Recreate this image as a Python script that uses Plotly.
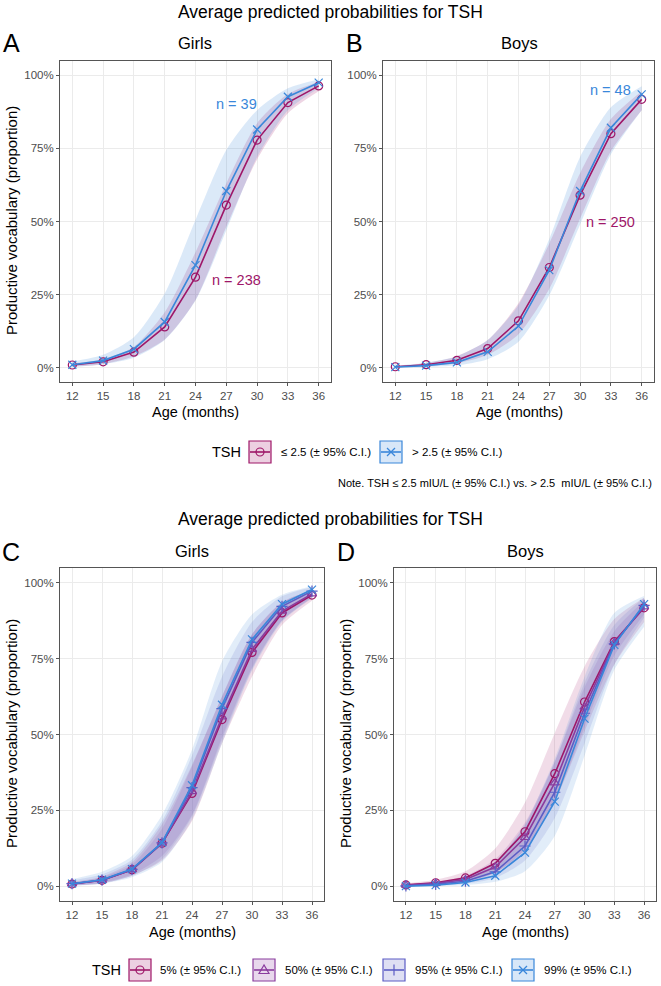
import plotly.graph_objects as go

W, H = 661, 986

# ---------------- data ----------------
ages = [12, 15, 18, 21, 24, 27, 30, 33, 36]
age_ticks = ["12", "15", "18", "21", "24", "27", "30", "33", "36"]
pct_vals = [0, 0.25, 0.5, 0.75, 1.0]
pct_text = ["0%", "25%", "50%", "75%", "100%"]

# Panel A (Girls): TSH <= 2.5 and > 2.5
girls_low = [0.010, 0.021, 0.054, 0.140, 0.310, 0.556, 0.778, 0.906, 0.963]
girls_low_lo = [0.005, 0.013, 0.040, 0.097, 0.232, 0.482, 0.712, 0.870, 0.945]
girls_low_hi = [0.016, 0.030, 0.072, 0.190, 0.395, 0.630, 0.835, 0.935, 0.976]
girls_high = [0.011, 0.025, 0.064, 0.157, 0.351, 0.604, 0.814, 0.926, 0.974]
girls_high_lo = [0.004, 0.013, 0.035, 0.095, 0.230, 0.470, 0.720, 0.880, 0.955]
girls_high_hi = [0.022, 0.045, 0.105, 0.254, 0.505, 0.744, 0.880, 0.955, 0.985]

# Panel B (Boys)
boys_low = [0.004, 0.011, 0.026, 0.066, 0.161, 0.343, 0.590, 0.800, 0.917]
boys_low_lo = [0.002, 0.006, 0.016, 0.045, 0.115, 0.270, 0.510, 0.740, 0.880]
boys_low_hi = [0.007, 0.017, 0.040, 0.095, 0.221, 0.425, 0.665, 0.850, 0.945]
boys_high = [0.003, 0.008, 0.019, 0.055, 0.143, 0.334, 0.604, 0.820, 0.934]
boys_high_lo = [0.001, 0.003, 0.009, 0.030, 0.089, 0.248, 0.490, 0.730, 0.880]
boys_high_hi = [0.008, 0.018, 0.040, 0.095, 0.215, 0.440, 0.720, 0.890, 0.962]

# Panel C (Girls) by TSH percentile
c5 = [0.008, 0.020, 0.055, 0.142, 0.306, 0.549, 0.770, 0.900, 0.959]
c5_lo = [0.003, 0.010, 0.035, 0.085, 0.215, 0.470, 0.690, 0.860, 0.940]
c5_hi = [0.015, 0.032, 0.080, 0.205, 0.400, 0.625, 0.830, 0.935, 0.975]
c50 = [0.008, 0.020, 0.055, 0.142, 0.312, 0.558, 0.780, 0.906, 0.963]
c50_lo = [0.004, 0.012, 0.040, 0.100, 0.235, 0.490, 0.720, 0.875, 0.948]
c50_hi = [0.013, 0.030, 0.072, 0.190, 0.395, 0.625, 0.830, 0.935, 0.975]
c95 = [0.009, 0.021, 0.056, 0.143, 0.325, 0.585, 0.803, 0.922, 0.972]
c95_lo = [0.003, 0.010, 0.035, 0.090, 0.230, 0.480, 0.715, 0.875, 0.952]
c95_hi = [0.020, 0.040, 0.088, 0.215, 0.430, 0.690, 0.870, 0.955, 0.985]
c99 = [0.009, 0.022, 0.057, 0.144, 0.333, 0.598, 0.813, 0.929, 0.977]
c99_lo = [0.003, 0.009, 0.030, 0.080, 0.220, 0.470, 0.710, 0.870, 0.950]
c99_hi = [0.024, 0.048, 0.100, 0.235, 0.450, 0.740, 0.895, 0.960, 0.988]

# Panel D (Boys) by TSH percentile
d5 = [0.005, 0.012, 0.028, 0.076, 0.180, 0.371, 0.607, 0.806, 0.917]
d5_lo = [0.002, 0.006, 0.016, 0.045, 0.120, 0.280, 0.510, 0.730, 0.870]
d5_hi = [0.010, 0.022, 0.050, 0.125, 0.276, 0.505, 0.724, 0.880, 0.950]
d50 = [0.004, 0.010, 0.023, 0.064, 0.161, 0.341, 0.590, 0.802, 0.920]
d50_lo = [0.002, 0.006, 0.015, 0.045, 0.120, 0.280, 0.525, 0.760, 0.895]
d50_hi = [0.006, 0.016, 0.035, 0.090, 0.210, 0.410, 0.655, 0.840, 0.940]
d95 = [0.002, 0.007, 0.017, 0.048, 0.133, 0.310, 0.570, 0.798, 0.925]
d95_lo = [0.001, 0.003, 0.009, 0.028, 0.085, 0.225, 0.470, 0.730, 0.885]
d95_hi = [0.005, 0.014, 0.032, 0.080, 0.200, 0.410, 0.670, 0.860, 0.950]
d99 = [0.001, 0.004, 0.013, 0.035, 0.111, 0.279, 0.552, 0.795, 0.929]
d99_lo = [0.000, 0.001, 0.004, 0.015, 0.050, 0.166, 0.430, 0.713, 0.855]
d99_hi = [0.004, 0.012, 0.032, 0.080, 0.205, 0.420, 0.690, 0.900, 0.956]

# ---------------- styles ----------------
MAG = (158, 22, 104)
PUR = (138, 60, 158)
IND = (92, 93, 197)
BLU = (58, 135, 218)
FONT = "Liberation Sans, Arial, Helvetica, sans-serif"


def rgb(c):
    return "rgb(%d,%d,%d)" % c


def rgba(c, a):
    return "rgba(%d,%d,%d,%.2f)" % (c + (a,))


def px(x):
    return x / W


def py(y):
    return 1 - y / H


fig = go.Figure()

panels = {
    1: dict(x=(60, 331), y=(61, 382)),
    2: dict(x=(383, 654), y=(61, 382)),
    3: dict(x=(60, 324), y=(568, 901)),
    4: dict(x=(394, 656), y=(568, 901)),
}


def add_group(i, mean, lo, hi, col, symbol, alpha=0.18):
    xa = "x" if i == 1 else "x%d" % i
    ya = "y" if i == 1 else "y%d" % i
    fig.add_trace(go.Scatter(x=ages, y=hi, xaxis=xa, yaxis=ya, mode="lines",
                             line=dict(width=0, color=rgba(col, 0), shape="spline", smoothing=0.7),
                             showlegend=False, hoverinfo="skip"))
    fig.add_trace(go.Scatter(x=ages, y=lo, xaxis=xa, yaxis=ya, mode="lines",
                             fill="tonexty", fillcolor=rgba(col, alpha),
                             line=dict(width=0, color=rgba(col, 0), shape="spline", smoothing=0.7),
                             showlegend=False, hoverinfo="skip"))


def add_line(i, mean, col, symbol):
    xa = "x" if i == 1 else "x%d" % i
    ya = "y" if i == 1 else "y%d" % i
    fig.add_trace(go.Scatter(x=ages, y=mean, xaxis=xa, yaxis=ya, mode="lines+markers",
                             line=dict(width=1.6, color=rgb(col)),
                             marker=dict(symbol=symbol, size=8, color=rgb(col),
                                         line=dict(width=1.2, color=rgb(col))),
                             showlegend=False))


# Panel A
add_group(1, girls_low, girls_low_lo, girls_low_hi, MAG, "circle-open")
add_group(1, girls_high, girls_high_lo, girls_high_hi, BLU, "x-thin-open")
add_line(1, girls_low, MAG, "circle-open")
add_line(1, girls_high, BLU, "x-thin-open")
# Panel B
add_group(2, boys_low, boys_low_lo, boys_low_hi, MAG, "circle-open")
add_group(2, boys_high, boys_high_lo, boys_high_hi, BLU, "x-thin-open")
add_line(2, boys_low, MAG, "circle-open")
add_line(2, boys_high, BLU, "x-thin-open")
# Panels C and D
groupsC = [(c5, c5_lo, c5_hi, MAG, "circle-open"), (c50, c50_lo, c50_hi, PUR, "triangle-up-open"),
           (c95, c95_lo, c95_hi, IND, "cross-thin-open"), (c99, c99_lo, c99_hi, BLU, "x-thin-open")]
groupsD = [(d5, d5_lo, d5_hi, MAG, "circle-open"), (d50, d50_lo, d50_hi, PUR, "triangle-up-open"),
           (d95, d95_lo, d95_hi, IND, "cross-thin-open"), (d99, d99_lo, d99_hi, BLU, "x-thin-open")]
for i, groups in ((3, groupsC), (4, groupsD)):
    for m, lo, hi, col, sym in groups:
        add_group(i, m, lo, hi, col, sym, alpha=0.15)
    for m, lo, hi, col, sym in groups:
        add_line(i, m, col, sym)

# ---------------- axes ----------------
layout = dict(width=W, height=H, margin=dict(l=0, r=0, t=0, b=0),
              paper_bgcolor="white", plot_bgcolor="white",
              font=dict(family=FONT, color="black"), showlegend=False)
for i, p in panels.items():
    xs = "xaxis" if i == 1 else "xaxis%d" % i
    ys = "yaxis" if i == 1 else "yaxis%d" % i
    xa = "x" if i == 1 else "x%d" % i
    ya = "y" if i == 1 else "y%d" % i
    layout[xs] = dict(domain=[px(p["x"][0]), px(p["x"][1])], anchor=ya,
                      range=[10.8, 37.2], tickvals=ages, ticktext=age_ticks,
                      showgrid=True, gridcolor="#EBEBEB", gridwidth=1, zeroline=False,
                      showline=True, mirror=True, linecolor="#555555", linewidth=1,
                      ticks="outside", ticklen=3, tickcolor="#555555",
                      tickfont=dict(size=11.5, color="#4D4D4D", family=FONT))
    layout[ys] = dict(domain=[py(p["y"][1]), py(p["y"][0])], anchor=xa,
                      range=[-0.048, 1.048], tickvals=pct_vals, ticktext=pct_text,
                      showgrid=True, gridcolor="#EBEBEB", gridwidth=1, zeroline=False,
                      showline=True, mirror=True, linecolor="#555555", linewidth=1,
                      ticks="outside", ticklen=3, tickcolor="#555555",
                      tickfont=dict(size=11.5, color="#4D4D4D", family=FONT))
fig.update_layout(**layout)

# ---------------- text ----------------
ann = []


def text(x, y, s, size, color="black", xanchor="center", angle=0):
    ann.append(dict(x=px(x), y=py(y), xref="paper", yref="paper", text=s, showarrow=False,
                    xanchor=xanchor, yanchor="middle", textangle=angle,
                    font=dict(size=size, color=color, family=FONT)))


text(330, 12, "Average predicted probabilities for TSH", 17.5)
text(330, 519, "Average predicted probabilities for TSH", 17.5)
text(195, 43, "Girls", 16.5)
text(519, 43, "Boys", 16.5)
text(192, 551, "Girls", 16.5)
text(525, 551, "Boys", 16.5)
text(11, 43, "A", 25)
text(354, 43, "B", 25)
text(11, 552, "C", 25)
text(346, 552, "D", 25)
text(195, 412, "Age (months)", 14.5)
text(519, 412, "Age (months)", 14.5)
text(192, 932, "Age (months)", 14.5)
text(525, 932, "Age (months)", 14.5)
text(11, 221, "Productive vocabulary (proportion)", 15, angle=-90)
text(11, 734, "Productive vocabulary (proportion)", 15, angle=-90)
text(345, 734, "Productive vocabulary (proportion)", 15, angle=-90)

# n labels (data coordinates)
ann.append(dict(x=28.0, y=0.90, xref="x", yref="y", text="n = 39", showarrow=False,
                font=dict(size=14.5, color=rgb(BLU), family=FONT)))
ann.append(dict(x=28.0, y=0.30, xref="x", yref="y", text="n = 238", showarrow=False,
                font=dict(size=14.5, color=rgb(MAG), family=FONT)))
ann.append(dict(x=33.0, y=0.95, xref="x2", yref="y2", text="n = 48", showarrow=False,
                font=dict(size=14.5, color=rgb(BLU), family=FONT)))
ann.append(dict(x=33.0, y=0.50, xref="x2", yref="y2", text="n = 250", showarrow=False,
                font=dict(size=14.5, color=rgb(MAG), family=FONT)))

# ---------------- legends (drawn) ----------------
shapes = []


def key(x0, yc, col, sym):
    x1 = x0 + 22
    y0, y1 = yc - 11, yc + 11
    cx = (x0 + x1) / 2
    shapes.append(dict(type="rect", xref="paper", yref="paper", x0=px(x0), x1=px(x1),
                       y0=py(y1), y1=py(y0), fillcolor=rgba(col, 0.2),
                       line=dict(color=rgb(col), width=1.2)))
    shapes.append(dict(type="line", xref="paper", yref="paper", x0=px(x0 + 1), x1=px(x1 - 1),
                       y0=py(yc), y1=py(yc), line=dict(color=rgb(col), width=1.6)))
    r = 4
    if sym == "circle":
        shapes.append(dict(type="circle", xref="paper", yref="paper", x0=px(cx - r), x1=px(cx + r),
                           y0=py(yc + r), y1=py(yc - r), line=dict(color=rgb(col), width=1.2)))
    elif sym == "triangle":
        path = "M %f,%f L %f,%f L %f,%f Z" % (px(cx), py(yc - 5), px(cx - 5), py(yc + 3.5),
                                               px(cx + 5), py(yc + 3.5))
        shapes.append(dict(type="path", xref="paper", yref="paper", path=path,
                           line=dict(color=rgb(col), width=1.2)))
    elif sym == "plus":
        shapes.append(dict(type="line", xref="paper", yref="paper", x0=px(cx), x1=px(cx),
                           y0=py(yc - 5.5), y1=py(yc + 5.5), line=dict(color=rgb(col), width=1.2)))
    elif sym == "x":
        for a, b in ((-4, 4), (4, -4)):
            shapes.append(dict(type="line", xref="paper", yref="paper", x0=px(cx - 4), x1=px(cx + 4),
                               y0=py(yc + a), y1=py(yc + b), line=dict(color=rgb(col), width=1.2)))


# legend 1
text(226, 452, "TSH", 14.5)
key(249, 452, MAG, "circle")
text(279, 452, "\u2264 2.5 (\u00b1 95% C.I.)", 11.5, xanchor="left")
key(380, 452, BLU, "x")
text(410, 452, "> 2.5 (\u00b1 95% C.I.)", 11.5, xanchor="left")
text(654, 483, "Note. TSH \u2264 2.5 mIU/L (\u00b1 95% C.I.) vs. > 2.5  mIU/L (\u00b1 95% C.I.)", 11,
     xanchor="right")

# legend 2
yl = 970
text(106, yl, "TSH", 14.5)
key(129, yl, MAG, "circle")
text(158, yl, "5% (\u00b1 95% C.I.)", 11.5, xanchor="left")
key(253, yl, PUR, "triangle")
text(283, yl, "50% (\u00b1 95% C.I.)", 11.5, xanchor="left")
key(383, yl, IND, "plus")
text(413, yl, "95% (\u00b1 95% C.I.)", 11.5, xanchor="left")
key(512, yl, BLU, "x")
text(542, yl, "99% (\u00b1 95% C.I.)", 11.5, xanchor="left")

fig.update_layout(annotations=ann, shapes=shapes)
fig.write_html("out.html", config={"displayModeBar": False},
               post_script="document.body.style.margin='0';document.body.style.overflow='hidden';")
